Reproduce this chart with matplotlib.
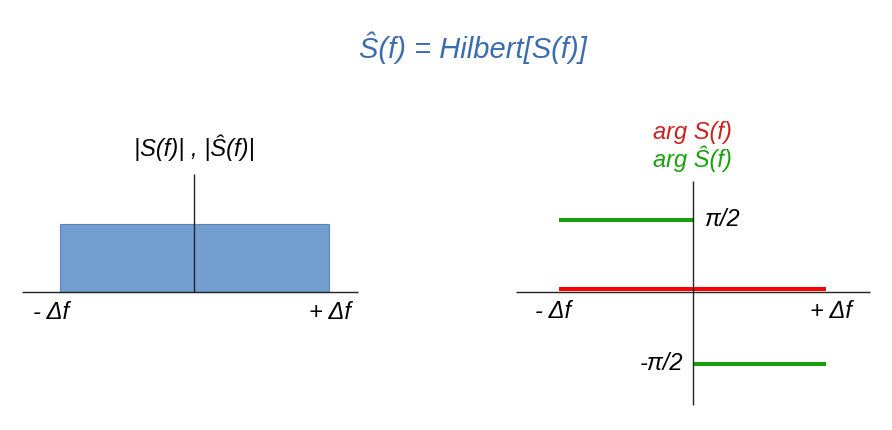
import matplotlib
matplotlib.use("Agg")
import matplotlib.pyplot as plt
import matplotlib.transforms as mtransforms
import numpy as np

plt.rcParams['font.family'] = ['Liberation Sans', 'DejaVu Sans']

# ---- data ----
band = [-1.0, 1.0]                 # -Δf .. +Δf (normalised)
magnitude = 1.0                    # |S(f)| = |Ŝ(f)| inside the band
phase_S_f = [-1.0, 1.0]            # arg S(f) = 0 across the band
phase_S = [0.0, 0.0]
phase_H_neg_f = [-1.0, 0.0]        # arg Ŝ(f) = +π/2 for f<0
phase_H_neg = [np.pi / 2, np.pi / 2]
phase_H_pos_f = [0.0, 1.0]         # arg Ŝ(f) = -π/2 for f>0
phase_H_pos = [-np.pi / 2, -np.pi / 2]
band_labels = ["- Δf", "+ Δf"]
phase_labels = ["π/2", "-π/2"]

title_color = "#3c6cb0"
rect_color = "#729fcf"
rect_edge = "#5b86bf"
red = "#ff0000"
red_txt = "#c9211e"
green = "#18a10d"
axis_col = "#222222"

W, H = 892, 430
fig = plt.figure(figsize=(W / 100, H / 100), dpi=100)

fs = 17
it = dict(style='italic', fontsize=fs)

# ---- left panel ----
axL = fig.add_axes([0, 0, 0.5, 1])
axL.axis('off')
ox, oy, ux, uy = 194.3, 291.7, 134.5, 67.4
axL.set_xlim((0 - ox) / ux, (446 - ox) / ux)
axL.set_ylim((oy - H) / uy, oy / uy)

axL.bar(0, magnitude, width=band[1] - band[0], bottom=0, color=rect_color,
        edgecolor=rect_edge, linewidth=0.8, zorder=1)
axL.plot([-1.279, 1.219], [0, 0], color=axis_col, lw=1.0, zorder=3,
         solid_capstyle='butt')
axL.plot([0, 0], [0, 1.746], color=axis_col, lw=1.0, zorder=3,
         solid_capstyle='butt')
axL.text(band[0] + (51 - 60) / ux, -20.5 / uy, band_labels[0], ha='center', va='center', **it)
axL.text(band[1] + (330 - 329) / ux, -20.5 / uy, band_labels[1], ha='center', va='center', **it)
axL.text(0, 143.5 / uy, "|S(f)| , |Ŝ(f)|", ha='center', va='center', **it)

# ---- right panel ----
axR = fig.add_axes([0.5, 0, 0.5, 1])
axR.axis('off')
ox, oy, ux, uy = 692.7 - 446, 291.5, 133.3, 72 / (np.pi / 2)
axR.set_xlim((0 - ox) / ux, (446 - ox) / ux)
axR.set_ylim((oy - H) / uy, oy / uy)

axR.plot([-1.325, 1.329], [0, 0], color=axis_col, lw=1.0, zorder=2,
         solid_capstyle='butt')
axR.plot([0, 0], [-2.476, 2.417], color=axis_col, lw=1.0, zorder=4,
         solid_capstyle='butt')
off = mtransforms.offset_copy(axR.transData, fig=fig, x=0, y=2.5, units='dots')
axR.plot(phase_S_f, phase_S, color=red, lw=2.9, zorder=3,
         solid_capstyle='butt', transform=off)
axR.plot(phase_H_neg_f, phase_H_neg, color=green, lw=2.9, zorder=3,
         solid_capstyle='butt')
axR.plot(phase_H_pos_f, phase_H_pos, color=green, lw=2.9, zorder=3,
         solid_capstyle='butt')
axR.text(12 / ux, phase_H_neg[0], phase_labels[0], ha='left', va='center', **it)
axR.text(-9 / ux, phase_H_pos[0], phase_labels[1], ha='right', va='center', **it)
axR.text(band[0] + (552.5 - 559.3) / ux, -19.5 / uy, band_labels[0], ha='center', va='center', **it)
axR.text(band[1] + (831 - 826) / ux, -19.5 / uy, band_labels[1], ha='center', va='center', **it)
axR.text(0, 159.5 / uy, "arg S(f)", ha='center', va='center', color=red_txt, **it)
axR.text(0, 133 / uy, "arg Ŝ(f)", ha='center', va='center', color=green, **it)

# ---- title ----
fig.text(473 / W, 1 - 48 / H, "Ŝ(f) = Hilbert[S(f)]", ha='center', va='center',
         style='italic', fontsize=21, color=title_color)

fig.savefig("out.png", dpi=100)
